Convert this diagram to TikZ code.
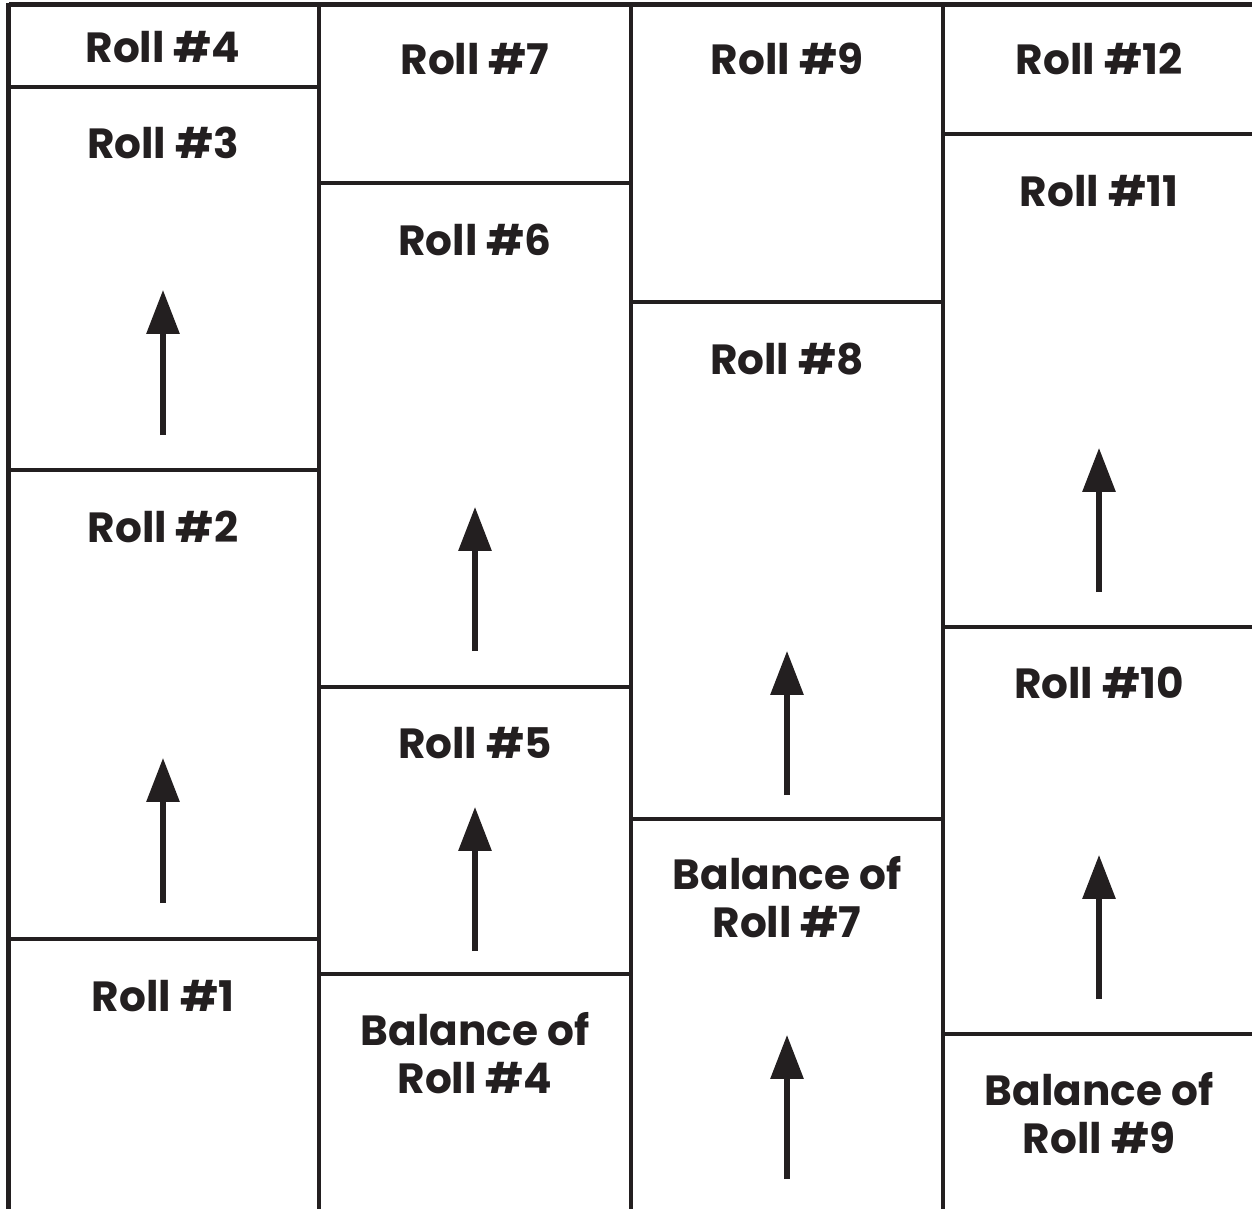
\documentclass[tikz,border=0pt]{standalone}
\usepackage{fontspec}
\setmainfont{Poppins}
\usepackage{xcolor}
\usetikzlibrary{arrows.meta}
\definecolor{ink}{HTML}{231F20}
\tikzset{
  grid/.style={draw=ink, line width=1.3pt},
  roll/.style={text=ink, font=\fontsize{12}{13.4}\selectfont\bfseries, align=center, anchor=base, inner sep=0pt},
  upArrow/.style={draw=ink, line width=1.45pt, -{Triangle[width=9.2pt,length=12.5pt]}}
}

\begin{document}
\begin{tikzpicture}[x=0.01cm, y=-0.01cm]
  \useasboundingbox (0,0) rectangle (1252,1209);

  % Frame
  \draw[grid] (8.5,4.5) -- (1252,4.5);
  \draw[grid] (8.5,2.5) -- (8.5,1209);
  \draw[grid] (319,2.5) -- (319,1209);
  \draw[grid] (631,2.5) -- (631,1209);
  \draw[grid] (943,2.5) -- (943,1209);

  % Column 1
  \draw[grid] (8.5,87) -- (319,87);
  \draw[grid] (8.5,470) -- (319,470);
  \draw[grid] (8.5,939) -- (319,939);
  \node[roll] (roll4) at (163,62) {Roll \#4};
  \node[roll] (roll3) at (163,158) {Roll \#3};
  \node[roll] (roll2) at (163,542) {Roll \#2};
  \node[roll] (roll1) at (163,1011) {Roll \#1};

  % Column 2
  \draw[grid] (319,183) -- (631,183);
  \draw[grid] (319,687) -- (631,687);
  \draw[grid] (319,974) -- (631,974);
  \node[roll] (roll7) at (475,74) {Roll \#7};
  \node[roll] (roll6) at (475,255) {Roll \#6};
  \node[roll] (roll5) at (475,758) {Roll \#5};
  \node[roll] (bal4) at (475,1093) {Balance of\\Roll \#4};

  % Column 3
  \draw[grid] (631,302) -- (943,302);
  \draw[grid] (631,819) -- (943,819);
  \node[roll] (roll9) at (787,74) {Roll \#9};
  \node[roll] (roll8) at (787,374) {Roll \#8};
  \node[roll] (bal7) at (787,937) {Balance of\\Roll \#7};

  % Column 4
  \draw[grid] (943,134) -- (1252,134);
  \draw[grid] (943,627) -- (1252,627);
  \draw[grid] (943,1034) -- (1252,1034);
  \node[roll] (roll12) at (1099,74) {Roll \#12};
  \node[roll] (roll11) at (1099,206) {Roll \#11};
  \node[roll] (roll10) at (1099,698) {Roll \#10};
  \node[roll] (bal9) at (1099,1153) {Balance of\\Roll \#9};

  % Arrows
  \coordinate (a1s) at (163,435);  \coordinate (a1e) at (163,290);
  \coordinate (a2s) at (163,903);  \coordinate (a2e) at (163,758);
  \coordinate (a3s) at (475,651);  \coordinate (a3e) at (475,507);
  \coordinate (a4s) at (475,951);  \coordinate (a4e) at (475,807);
  \coordinate (a5s) at (787,795);  \coordinate (a5e) at (787,651);
  \coordinate (a6s) at (787,1179); \coordinate (a6e) at (787,1035);
  \coordinate (a7s) at (1099,592); \coordinate (a7e) at (1099,448);
  \coordinate (a8s) at (1099,999); \coordinate (a8e) at (1099,855);
  \draw[upArrow] (a1s) -- (a1e);
  \draw[upArrow] (a2s) -- (a2e);
  \draw[upArrow] (a3s) -- (a3e);
  \draw[upArrow] (a4s) -- (a4e);
  \draw[upArrow] (a5s) -- (a5e);
  \draw[upArrow] (a6s) -- (a6e);
  \draw[upArrow] (a7s) -- (a7e);
  \draw[upArrow] (a8s) -- (a8e);
\end{tikzpicture}
\end{document}
